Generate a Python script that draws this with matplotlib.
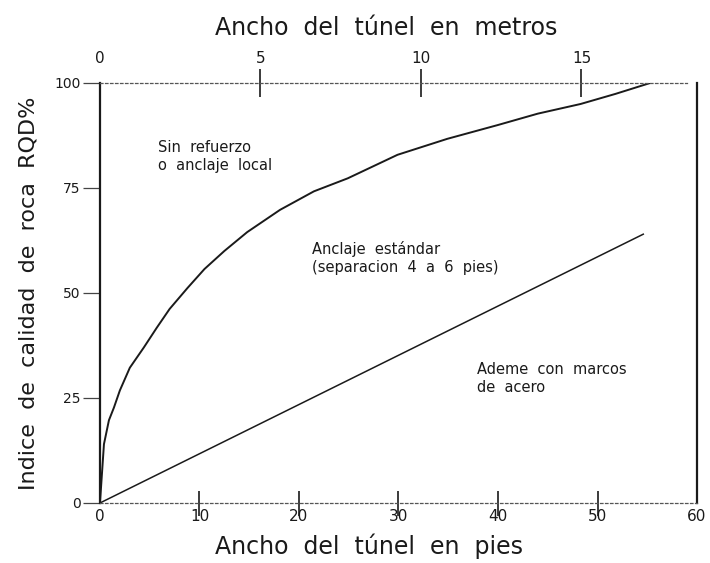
import matplotlib
matplotlib.use("Agg")
import matplotlib.pyplot as plt
import numpy as np

# curve: limit of "sin refuerzo" zone (feet, RQD%)
limit_x = [0, 0.4, 0.9, 1.4, 2.0, 3.0, 4.4, 5.7, 7.0, 8.8, 10.5, 12.5, 14.8,
           18.1, 21.5, 24.9, 29.9, 34.9, 40.0, 44.0, 48.3, 51.8, 55.3]
limit_y = [0, 14, 19.7, 22.7, 26.8, 32.2, 37, 41.7, 46.2, 51.2, 55.7, 60, 64.5,
           69.8, 74.2, 77.3, 82.9, 86.7, 90, 92.7, 95, 97.4, 100]

# straight line: anclaje estandar / ademe con marcos
steel_x = [0, 54.6]
steel_y = [0, 64]

ft_ticks = [0, 10, 20, 30, 40, 50, 60]
m_ticks = [0, 5, 10, 15]
rqd_ticks = [0, 25, 50, 75, 100]

M_PER_FT = 0.31  # as drawn on the scanned figure

plt.rcParams['font.family'] = ['DejaVu Sans']

fig = plt.figure(figsize=(7.1, 5.63), dpi=100)
ax = fig.add_axes([0.1408, 0.1066, 0.8409, 0.746])

ink = '#1a1a1a'
ax.plot(limit_x, limit_y, color=ink, lw=1.4)
ax.plot(steel_x, steel_y, color=ink, lw=1.1)

ax.set_xlim(0, 60)
ax.set_ylim(0, 100)

# spines like the scan: solid left/right, dotted top/bottom
for side in ('left', 'right'):
    ax.spines[side].set_linewidth(1.6)
    ax.spines[side].set_color(ink)
for side in ('top', 'bottom'):
    ax.spines[side].set_linestyle((0, (2, 2)))
    ax.spines[side].set_color('#555555')
    ax.spines[side].set_linewidth(0.9)
ax.spines['top'].set_bounds(0, 59)

ax.set_xticks(ft_ticks)
ax.set_xticklabels([str(t) for t in ft_ticks])
ax.set_yticks(rqd_ticks)
ax.set_yticklabels([str(t) for t in rqd_ticks])
ax.tick_params(axis='x', direction='inout', length=18, width=1.2, color=ink,
               labelsize=11, pad=-5, labelcolor=ink)
ax.tick_params(axis='y', direction='out', length=12, width=0.9, color='#444444',
               labelsize=10, pad=2, labelcolor=ink)
for t in ax.xaxis.get_major_ticks():
    if t.get_loc() in (0, 60):
        t.tick1line.set_visible(False)

ax.set_xlabel("Ancho  del  túnel  en  pies", fontsize=17, color=ink,
              labelpad=7, x=0.45)
ax.set_ylabel("Indice  de  calidad  de  roca  RQD%", fontsize=16, color=ink,
              labelpad=11)

top = ax.secondary_xaxis('top', functions=(lambda f: f * M_PER_FT,
                                           lambda m: m / M_PER_FT))
top.set_xticks(m_ticks)
top.set_xticklabels([str(t) for t in m_ticks])
top.tick_params(direction='inout', length=20, width=1.2, color=ink,
                labelsize=11, pad=2, labelcolor=ink)
top.spines['top'].set_visible(False)
top.xaxis.get_major_ticks()[0].tick2line.set_visible(False)
top.set_xlabel("Ancho  del  túnel  en  metros", fontsize=17, color=ink,
               labelpad=12, x=0.48)

# zone labels
note = dict(fontsize=10.5, color=ink, linespacing=1.25, va='center')
ax.text(5.8, 82.6, "Sin  refuerzo\no  anclaje  local", **note)
ax.text(21.3, 58.3, "Anclaje  estándar\n(separacion  4  a  6  pies)", **note)
ax.text(37.9, 29.6, "Ademe  con  marcos\nde  acero", **note)

plt.savefig("out.png", dpi=100)
